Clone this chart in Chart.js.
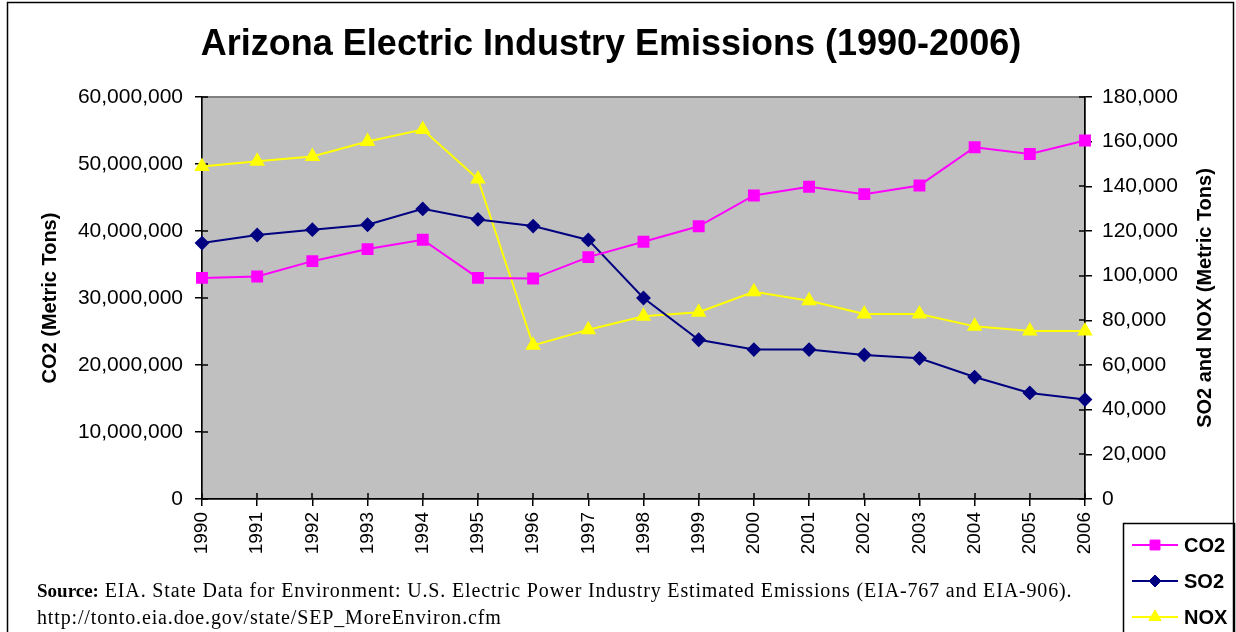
<!DOCTYPE html>
<html><head><meta charset="utf-8">
<script src="https://cdn.jsdelivr.net/npm/chart.js@4/dist/chart.umd.min.js"></script>
<style>html,body{margin:0;padding:0;background:#fff;overflow:hidden;}</style>
</head><body>
<canvas id="c" width="1236" height="632" style="width:1236px;height:632px;display:block"></canvas>
<script>
const years = ['1990','1991','1992','1993','1994','1995','1996','1997','1998','1999','2000','2001','2002','2003','2004','2005','2006'];
const co2 = [33.0e6, 33.2e6, 35.5e6, 37.3e6, 38.7e6, 33.0e6, 32.9e6, 36.1e6, 38.4e6, 40.7e6, 45.3e6, 46.6e6, 45.5e6, 46.8e6, 52.5e6, 51.5e6, 53.5e6];
const so2 = [114600, 118200, 120600, 122800, 129900, 125200, 122200, 116000, 90000, 71300, 66900, 66900, 64500, 63000, 54600, 47500, 44500];
const nox = [148900, 151200, 153400, 160100, 165400, 143300, 68800, 75800, 81800, 83600, 92800, 88800, 82800, 82800, 77300, 75200, 75200];
const seriesNames = ['CO2', 'SO2', 'NOX'];
const leftTicks = {min: 0, max: 60000000, step: 10000000};
const rightTicks = {min: 0, max: 180000, step: 20000};
const titleText = 'Arizona Electric Industry Emissions (1990-2006)';
const leftTitle = 'CO2 (Metric Tons)';
const rightTitle = 'SO2 and NOX (Metric Tons)';
const sourceBold = 'Source:';
const sourceLine1 = ' EIA. State Data for Environment: U.S. Electric Power Industry Estimated Emissions (EIA-767 and EIA-906).';
const sourceLine2 = 'http://tonto.eia.doe.gov/state/SEP_MoreEnviron.cfm';

const SANS = '"Liberation Sans", Arial, sans-serif';
const SERIF = '"Liberation Serif", "Times New Roman", serif';
const fmt = v => Number(v).toLocaleString('en-US');

const decor = {
  id: 'decor',
  beforeDraw(chart) {
    const {ctx, chartArea: a} = chart;
    ctx.save();
    ctx.fillStyle = '#fff';
    ctx.fillRect(0, 0, chart.width, chart.height);
    ctx.fillStyle = '#C0C0C0';
    ctx.fillRect(a.left, a.top, a.right - a.left, a.bottom - a.top);
    ctx.strokeStyle = '#808080';
    ctx.lineWidth = 2;
    ctx.strokeRect(a.left, a.top, a.right - a.left, a.bottom - a.top);
    ctx.restore();
  },
  beforeDatasetsDraw(chart) {
    const {ctx, chartArea: a, scales} = chart;
    ctx.save();
    ctx.strokeStyle = '#000';
    ctx.lineWidth = 1.5;
    ctx.beginPath();
    const yl = scales.y, yr = scales.y2, x = scales.x;
    yl.ticks.forEach((t, i) => { const p = Math.round(yl.getPixelForTick(i)); ctx.moveTo(a.left, p); ctx.lineTo(a.left + 6, p); });
    yr.ticks.forEach((t, i) => { const p = Math.round(yr.getPixelForTick(i)); ctx.moveTo(a.right, p); ctx.lineTo(a.right - 6, p); });
    x.ticks.forEach((t, i) => { const p = Math.round(x.getPixelForTick(i)); ctx.moveTo(p, a.bottom); ctx.lineTo(p, a.bottom - 6); });
    ctx.stroke();
    ctx.restore();
  },
  afterDraw(chart) {
    const {ctx, chartArea: a} = chart;
    ctx.save();
    // title
    ctx.fillStyle = '#000';
    ctx.font = 'bold 36px ' + SANS;
    ctx.textAlign = 'center';
    ctx.textBaseline = 'alphabetic';
    ctx.fillText(titleText, 611, 55);
    // right axis title (reads bottom-to-top)
    ctx.save();
    ctx.translate(1205, (a.top + a.bottom) / 2);
    ctx.rotate(-Math.PI / 2);
    ctx.font = 'bold 20px ' + SANS;
    ctx.textAlign = 'center';
    ctx.textBaseline = 'middle';
    ctx.fillText(rightTitle, 0, 0);
    ctx.restore();
    // source text
    ctx.textAlign = 'left';
    ctx.textBaseline = 'alphabetic';
    ctx.font = 'bold 19px ' + SERIF;
    ctx.fillText(sourceBold, 37, 597);
    const w = ctx.measureText(sourceBold).width;
    ctx.font = '20px ' + SERIF;
    if ('letterSpacing' in ctx) ctx.letterSpacing = '0.85px';
    ctx.fillText(sourceLine1, 37 + w, 597);
    ctx.fillText(sourceLine2, 37, 624);
    if ('letterSpacing' in ctx) ctx.letterSpacing = '0px';
    // legend box
    ctx.strokeStyle = '#000';
    ctx.lineWidth = 1.5;
    ctx.strokeRect(1123.5, 523.5, 111, 140);
    const rows = [545, 581, 617];
    chart.data.datasets.forEach((ds, i) => {
      const y = rows[i];
      ctx.strokeStyle = ds.borderColor;
      ctx.lineWidth = 2;
      ctx.beginPath(); ctx.moveTo(1132, y); ctx.lineTo(1178, y); ctx.stroke();
      ctx.fillStyle = ds.pointBackgroundColor;
      ctx.strokeStyle = ds.pointBorderColor;
      ctx.lineWidth = 1;
      Chart.helpers.drawPoint(ctx, {pointStyle: ds.pointStyle, radius: ds.pointRadius, rotation: 0, borderWidth: 1}, 1155, y);
      ctx.fillStyle = '#000';
      ctx.font = 'bold 20px ' + SANS;
      ctx.textBaseline = 'middle';
      ctx.fillText(ds.label, 1184, y + 1);
    });
    // outer border
    ctx.strokeStyle = '#000';
    ctx.lineWidth = 1.5;
    ctx.strokeRect(7.5, 2.5, 1226, 660);
    ctx.restore();
  }
};

new Chart(document.getElementById('c'), {
  type: 'line',
  data: {
    labels: years,
    datasets: [
      {label: seriesNames[0], data: co2, yAxisID: 'y', borderColor: '#FF00FF', backgroundColor: '#FF00FF', pointBackgroundColor: '#FF00FF', pointBorderColor: '#FF00FF', pointStyle: 'rect', pointRadius: 7, borderWidth: 2, tension: 0},
      {label: seriesNames[1], data: so2, yAxisID: 'y2', borderColor: '#000080', backgroundColor: '#000080', pointBackgroundColor: '#000080', pointBorderColor: '#000080', pointStyle: 'rectRot', pointRadius: 6, borderWidth: 2, tension: 0},
      {label: seriesNames[2], data: nox, yAxisID: 'y2', borderColor: '#FFFF00', backgroundColor: '#FFFF00', pointBackgroundColor: '#FFFF00', pointBorderColor: '#FFFF00', pointStyle: 'triangle', pointRadius: 7, borderWidth: 2, tension: 0}
    ]
  },
  options: {
    responsive: false,
    animation: false,
    devicePixelRatio: 1,
    layout: {padding: {top: 97, left: 0, right: 0, bottom: 0}},
    plugins: {legend: {display: false}, title: {display: false}, tooltip: {enabled: false}},
    scales: {
      x: {
        offset: false,
        grid: {display: true, drawOnChartArea: false, drawTicks: true, tickLength: 7, color: '#000', lineWidth: 1.5},
        border: {display: true, color: '#000', width: 1.5},
        ticks: {color: '#000', font: {family: SANS, size: 19}, minRotation: 90, maxRotation: 90, padding: 6, autoSkip: false},
        afterFit(s) { s.height = 133; }
      },
      y: {
        position: 'left', min: leftTicks.min, max: leftTicks.max,
        grid: {display: true, drawOnChartArea: false, drawTicks: true, tickLength: 7, color: '#000', lineWidth: 1.5},
        border: {display: true, color: '#000', width: 1.5},
        ticks: {stepSize: leftTicks.step, color: '#000', font: {family: SANS, size: 21}, padding: 12, callback: v => fmt(v)},
        title: {display: true, text: leftTitle, color: '#000', font: {family: SANS, size: 20, weight: 'bold'}, padding: {top: 38, bottom: 0}},
        afterFit(s) { s.width = 202; }
      },
      y2: {
        position: 'right', min: rightTicks.min, max: rightTicks.max,
        grid: {display: true, drawOnChartArea: false, drawTicks: true, tickLength: 7, color: '#000', lineWidth: 1.5},
        border: {display: true, color: '#000', width: 1.5},
        ticks: {stepSize: rightTicks.step, color: '#000', font: {family: SANS, size: 21}, padding: 10, callback: v => fmt(v)},
        afterFit(s) { s.width = 151; }
      }
    }
  },
  plugins: [decor]
});
</script>
</body></html>
